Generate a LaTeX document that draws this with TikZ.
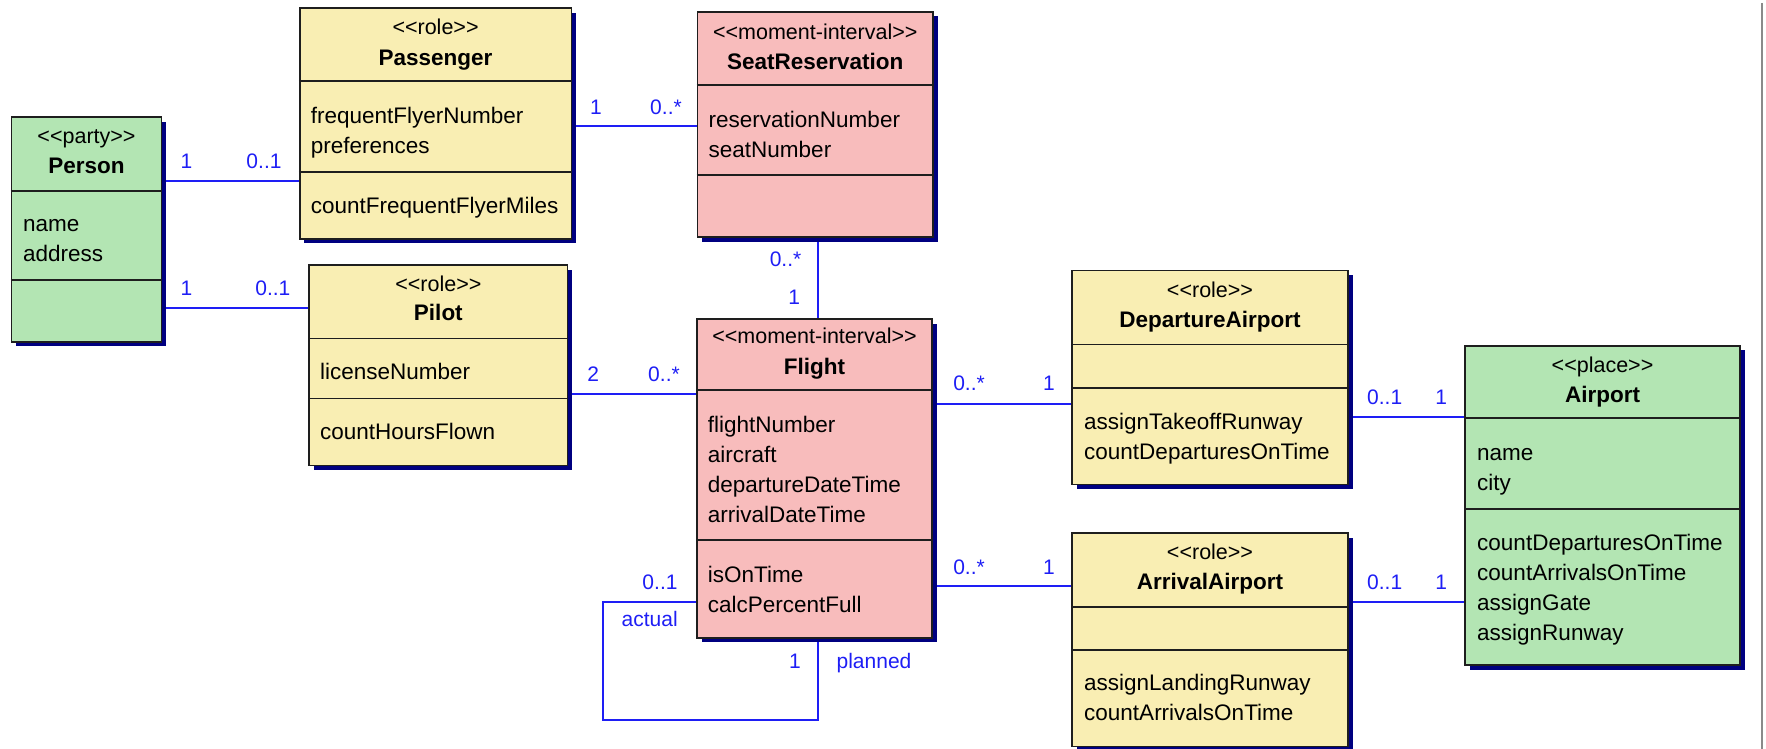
\documentclass[tikz,border=0pt]{standalone}
\usepackage{fontspec}
\newfontfamily\umlfont{Liberation Sans}
\usetikzlibrary{shadows,backgrounds,fit}
\definecolor{partyfill}{HTML}{B3E5B3}
\definecolor{rolefill}{HTML}{F9EEB3}
\definecolor{momentfill}{HTML}{F8BCBC}
\definecolor{assoc}{HTML}{1E1EF5}
\definecolor{shade}{HTML}{000080}
\definecolor{outline}{HTML}{1E1E1E}
\definecolor{frame}{HTML}{8A8A8A}
\newcommand\stereotype[1]{<\kern0pt<#1>\kern0pt>}
% feature lines of a compartment, 30 units apart
\newcommand\features[4]{%
  \foreach \t [count=\i] in {#4} {
    \node[feat] (#1-\i) at (#2,{#3+30*(\i-1)}) {\t};
  }}
\begin{document}
\begin{tikzpicture}[x=1pt,y=-1pt,
  classbox/.style={draw=outline, line width=1.6pt, inner sep=0pt,
    drop shadow={shadow xshift=4.5pt, shadow yshift=-4.5pt, fill=shade, opacity=1}},
  divider/.style={draw=outline, line width=1.6pt},
  basefont/.style={font=\umlfont\fontsize{22.5}{30}\selectfont, inner sep=0pt, yshift=-7pt},
  stereo/.style={basefont, font=\umlfont\fontsize{21.5}{30}\selectfont, anchor=mid},
  cname/.style={basefont, font=\umlfont\fontsize{22.5}{30}\selectfont\bfseries, anchor=mid},
  feat/.style={basefont, anchor=mid west},
  mult/.style={basefont, font=\umlfont\fontsize{21}{30}\selectfont, text=assoc, anchor=mid},
  link/.style={draw=assoc, line width=1.8pt}
]
\useasboundingbox (0,0) rectangle (1766,749);

% window frame edge
\draw[frame, line width=2pt] (1762,3) -- (1762,749);

% ---------------- Person ----------------
\node[classbox, fill=partyfill, fit={(11.5,117.3) (161.5,341.7)}] (person) {};
\draw[divider] (person.west |- 0,190.7) -- (person.east |- 0,190.7);
\draw[divider] (person.west |- 0,280) -- (person.east |- 0,280);
\node[stereo] (person-st) at (person.north |- 0,134.3) {\stereotype{party}};
\node[cname] (person-nm) at (person.north |- 0,164.3) {Person};
\features{person-a}{23}{222.7}{name,address}

% ---------------- Passenger ----------------
\node[classbox, fill=rolefill, fit={(299.7,8.3) (571.4,238.7)}] (passenger) {};
\draw[divider] (passenger.west |- 0,81) -- (passenger.east |- 0,81);
\draw[divider] (passenger.west |- 0,171.7) -- (passenger.east |- 0,171.7);
\node[stereo] (passenger-st) at (passenger.north |- 0,25) {\stereotype{role}};
\node[cname] (passenger-nm) at (passenger.north |- 0,56) {Passenger};
\features{passenger-a}{310.7}{114.3}{frequentFlyerNumber,preferences}
\features{passenger-o}{310.7}{204}{countFrequentFlyerMiles}

% ---------------- Pilot ----------------
\node[classbox, fill=rolefill, fit={(309.2,265) (567.5,465.3)}] (pilot) {};
\draw[divider] (pilot.west |- 0,338.3) -- (pilot.east |- 0,338.3);
\draw[divider] (pilot.west |- 0,398.3) -- (pilot.east |- 0,398.3);
\node[stereo] (pilot-st) at (pilot.north |- 0,282.3) {\stereotype{role}};
\node[cname] (pilot-nm) at (pilot.north |- 0,311.7) {Pilot};
\features{pilot-a}{320}{370}{licenseNumber}
\features{pilot-o}{320}{430}{countHoursFlown}

% ---------------- SeatReservation ----------------
\node[classbox, fill=momentfill, fit={(697.5,12) (933,237)}] (seat) {};
\draw[divider] (seat.west |- 0,85) -- (seat.east |- 0,85);
\draw[divider] (seat.west |- 0,175) -- (seat.east |- 0,175);
\node[stereo] (seat-st) at (seat.north |- 0,30) {\stereotype{moment-interval}};
\node[cname] (seat-nm) at (seat.north |- 0,60) {SeatReservation};
\features{seat-a}{708.5}{118.3}{reservationNumber,seatNumber}

% ---------------- Flight ----------------
\node[classbox, fill=momentfill, fit={(697,319) (932,637.7)}] (flight) {};
\draw[divider] (flight.west |- 0,390) -- (flight.east |- 0,390);
\draw[divider] (flight.west |- 0,540) -- (flight.east |- 0,540);
\node[stereo] (flight-st) at (flight.north |- 0,334.3) {\stereotype{moment-interval}};
\node[cname] (flight-nm) at (flight.north |- 0,365) {Flight};
\features{flight-a}{707.7}{423.3}{flightNumber,aircraft,departureDateTime,arrivalDateTime}
\features{flight-o}{707.7}{573.3}{isOnTime,calcPercentFull}

% ---------------- DepartureAirport ----------------
\node[classbox, fill=rolefill, fit={(1072,270.5) (1348,484.3)}] (depart) {};
\draw[divider] (depart.west |- 0,344.5) -- (depart.east |- 0,344.5);
\draw[divider] (depart.west |- 0,388) -- (depart.east |- 0,388);
\node[stereo] (depart-st) at (depart.north |- 0,288.3) {\stereotype{role}};
\node[cname] (depart-nm) at (depart.north |- 0,318.3) {DepartureAirport};
\features{depart-o}{1084}{420}{assignTakeoffRunway,countDeparturesOnTime}

% ---------------- ArrivalAirport ----------------
\node[classbox, fill=rolefill, fit={(1072,533) (1348,746.5)}] (arrive) {};
\draw[divider] (arrive.west |- 0,607) -- (arrive.east |- 0,607);
\draw[divider] (arrive.west |- 0,650) -- (arrive.east |- 0,650);
\node[stereo] (arrive-st) at (arrive.north |- 0,550) {\stereotype{role}};
\node[cname] (arrive-nm) at (arrive.north |- 0,580) {ArrivalAirport};
\features{arrive-o}{1084}{681.7}{assignLandingRunway,countArrivalsOnTime}

% ---------------- Airport ----------------
\node[classbox, fill=partyfill, fit={(1465,345.8) (1740,665)}] (airport) {};
\draw[divider] (airport.west |- 0,418) -- (airport.east |- 0,418);
\draw[divider] (airport.west |- 0,509) -- (airport.east |- 0,509);
\node[stereo] (airport-st) at (airport.north |- 0,363.3) {\stereotype{place}};
\node[cname] (airport-nm) at (airport.north |- 0,393.3) {Airport};
\features{airport-a}{1477}{451.7}{name,city}
\features{airport-o}{1477}{541}{countDeparturesOnTime,countArrivalsOnTime,assignGate,assignRunway}

% ---------------- associations ----------------
\begin{pgfonlayer}{background}
  \draw[link] (person.east |- 0,181) -- (passenger.west |- 0,181);
  \draw[link] (person.east |- 0,308) -- (pilot.west |- 0,308);
  \draw[link] (passenger.east |- 0,126) -- (seat.west |- 0,126);
  \draw[link] (seat.south -| 818,0) -- (flight.north -| 818,0);
  \draw[link] (pilot.east |- 0,394) -- (flight.west |- 0,394);
  \draw[link] (flight.east |- 0,404) -- (depart.west |- 0,404);
  \draw[link] (flight.east |- 0,586) -- (arrive.west |- 0,586);
  \draw[link] (depart.east |- 0,417) -- (airport.west |- 0,417);
  \draw[link] (arrive.east |- 0,602) -- (airport.west |- 0,602);
  % reflexive actual/planned association
  \coordinate (loopA) at (602.7,602.3);
  \coordinate (loopB) at (602.7,720);
  \coordinate (loopC) at (818,720);
  \draw[link] (flight.west |- loopA) -- (loopA) -- (loopB) -- (loopC) -- (flight.south -| loopC);
\end{pgfonlayer}

% ---------------- multiplicities and roles ----------------
\node[mult] (m1a) at (186.4,159.3) {1};
\node[mult] (m1b) at (264,159.3) {0..1};
\node[mult] (m2a) at (186.4,286) {1};
\node[mult] (m2b) at (272.9,286) {0..1};
\node[mult] (m3a) at (596,105) {1};
\node[mult] (m3b) at (666,105) {0..*};
\node[mult] (m4a) at (785.5,257.3) {0..*};
\node[mult] (m4b) at (794.3,295) {1};
\node[mult] (m5a) at (593.3,372.7) {2};
\node[mult] (m5b) at (664,372.7) {0..*};
\node[mult] (m6a) at (969,381.7) {0..*};
\node[mult] (m6b) at (1049,381.7) {1};
\node[mult] (m7a) at (969,565) {0..*};
\node[mult] (m7b) at (1049,565) {1};
\node[mult] (m8a) at (1384.7,395) {0..1};
\node[mult] (m8b) at (1441.3,395) {1};
\node[mult] (m9a) at (1384.7,580) {0..1};
\node[mult] (m9b) at (1441.3,580) {1};
\node[mult] (m10a) at (660,580) {0..1};
\node[mult] (r10a) at (649.7,617.7) {actual};
\node[mult] (m10b) at (795,659.3) {1};
\node[mult] (r10b) at (874,659.3) {planned};
\end{tikzpicture}
\end{document}
